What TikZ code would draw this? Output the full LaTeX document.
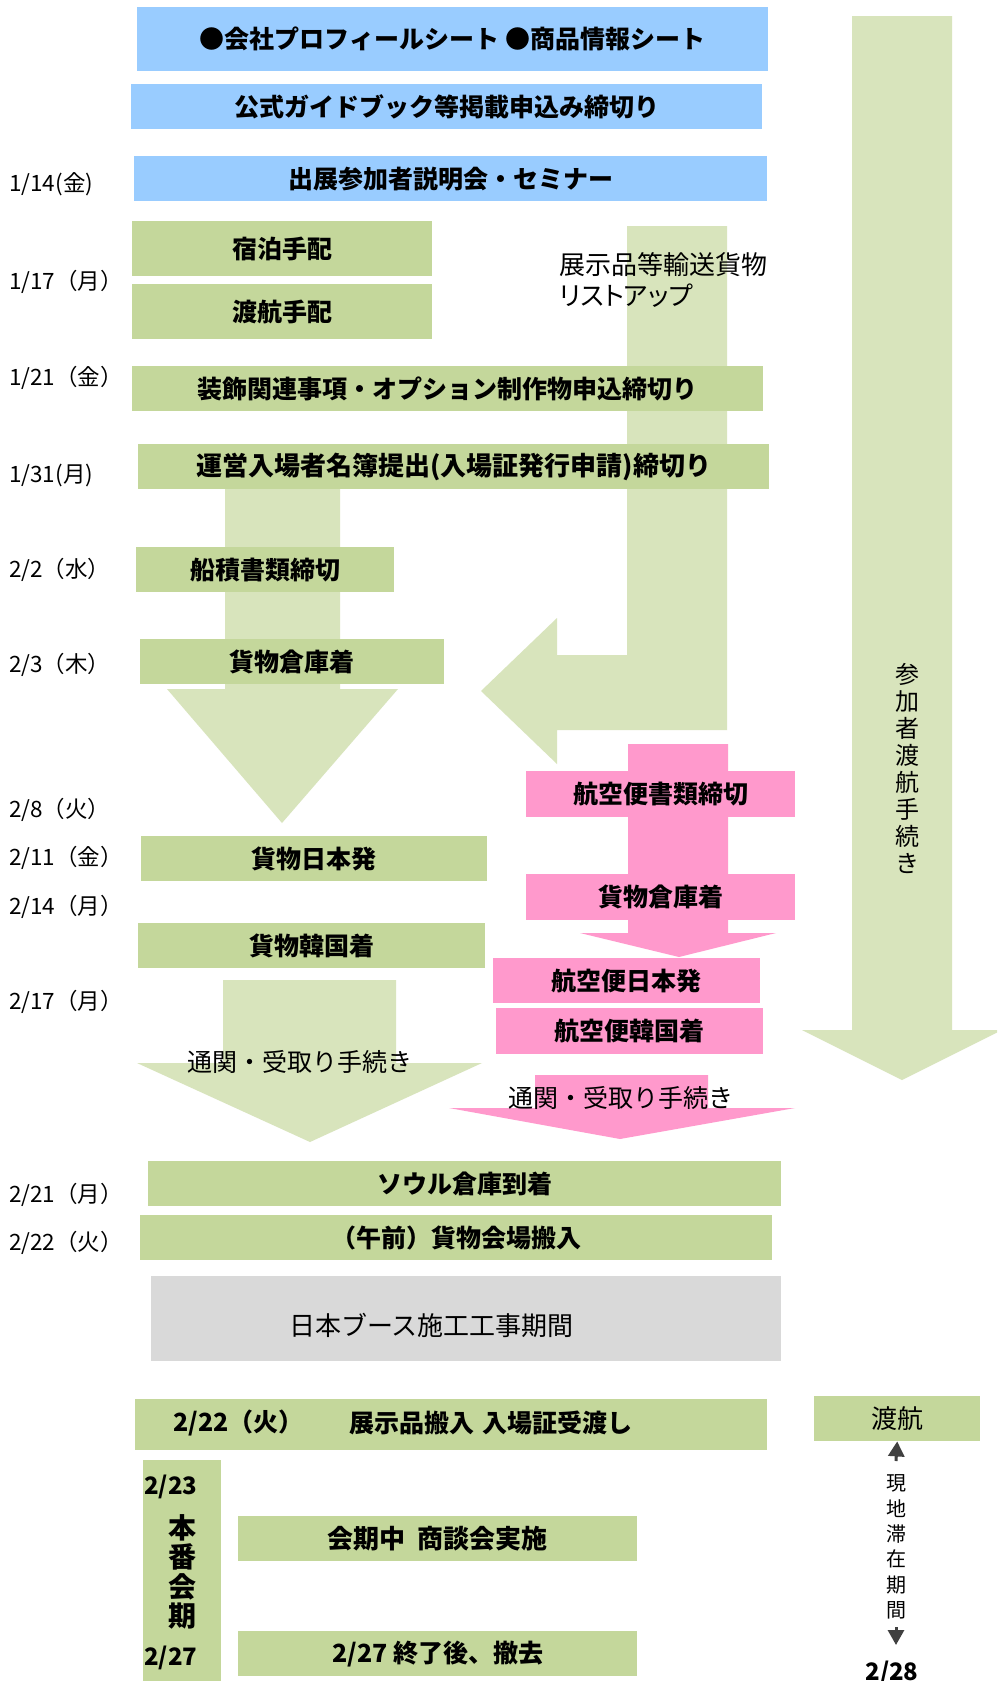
\documentclass[tikz,border=0pt]{standalone}
\usepackage{fontspec}
\setmainfont{Noto Sans CJK JP}
\usetikzlibrary{arrows.meta}
\definecolor{cblue}{HTML}{99CCFF}
\definecolor{cgreen}{HTML}{C4D79B}
\definecolor{clight}{HTML}{D8E4BC}
\definecolor{cpink}{HTML}{FF99CC}
\definecolor{cgrey}{HTML}{D9D9D9}
\definecolor{cdark}{HTML}{404040}
\begin{document}
\begin{tikzpicture}[x=1pt,y=-1pt,
  bx/.style={inner sep=0pt, anchor=north west, font=\fontsize{25}{30}\selectfont\bfseries},
  gbox/.style={bx, fill=cgreen},
  bbox/.style={bx, fill=cblue},
  pbox/.style={bx, fill=cpink},
  greybox/.style={inner sep=0pt, anchor=north west, fill=cgrey},
  datelbl/.style={inner sep=0pt, anchor=west, font=\fontsize{22.5}{26}\selectfont},
  plain/.style={inner sep=0pt, font=\fontsize{25}{30}\selectfont},
  boldtxt/.style={inner sep=0pt, font=\fontsize{25}{30}\selectfont\bfseries},
  lightarrow/.style={fill=clight, draw=none},
  pinkarrow/.style={fill=cpink, draw=none},
  stayarrow/.style={draw=cdark, line width=3pt, -{Triangle[width=16pt,length=15pt]}},
]
\useasboundingbox (0,0) rectangle (997,1681);
\clip (0,0) rectangle (997,1681);
\fill[white] (0,0) rectangle (997,1681);

% block arrows
\fill[lightarrow] (852,16) -- (952,16) -- (952,1030) -- (1002,1030) -- (902,1080) -- (802,1030) -- (852,1030) -- cycle;
\fill[lightarrow] (627,226) -- (727,226) -- (727,730) -- (557,730) -- (557,764) -- (481,691) -- (557,618) -- (557,655) -- (627,655) -- cycle;
\fill[lightarrow] (225,470) -- (340,470) -- (340,689) -- (398,689) -- (282,823) -- (167,689) -- (225,689) -- cycle;
\fill[pinkarrow] (628,744) -- (728,744) -- (728,933) -- (776,933) -- (679,957) -- (580,933) -- (628,933) -- cycle;
\fill[lightarrow] (223,980) -- (396,980) -- (396,1063) -- (482,1063) -- (310,1142) -- (137,1063) -- (223,1063) -- cycle;
\fill[pinkarrow] (535,1075) -- (708,1075) -- (708,1108) -- (795,1108) -- (620,1139) -- (449,1108) -- (535,1108) -- cycle;

% boxes
\node[bbox, minimum width=631pt, minimum height=64pt] (b1) at (137,7) {●会社プロフィールシート\hspace{6pt}●商品情報シート};
\node[bbox, minimum width=631pt, minimum height=45pt] (b2) at (131,84) {公式ガイドブック等掲載申込み締切り};
\node[bbox, minimum width=633pt, minimum height=45pt] (b3) at (134,156) {出展参加者説明会・セミナー};
\node[gbox, minimum width=300pt, minimum height=55pt] (shuku) at (132,221) {宿泊手配};
\node[gbox, minimum width=300pt, minimum height=55pt] (toko) at (132,284) {渡航手配};
\node[gbox, minimum width=631pt, minimum height=45pt] (soshoku) at (132,366) {装飾関連事項・オプション制作物申込締切り};
\node[gbox, minimum width=631pt, minimum height=45pt, font=\fontsize{26}{30}\selectfont\bfseries] (unei) at (138,444) {運営入場者名簿提出(入場証発行申請)締切り};
\node[gbox, minimum width=258pt, minimum height=45pt] (funa) at (136,547) {船積書類締切};
\node[gbox, minimum width=304pt, minimum height=45pt] (soko1) at (140,639) {貨物倉庫着};
\node[gbox, minimum width=346pt, minimum height=45pt] (nihon) at (141,836) {貨物日本発};
\node[gbox, minimum width=347pt, minimum height=45pt] (kankoku) at (138,923) {貨物韓国着};
\node[pbox, minimum width=269pt, minimum height=46pt] (air1) at (526,771) {航空便書類締切};
\node[pbox, minimum width=269pt, minimum height=46pt] (air2) at (526,874) {貨物倉庫着};
\node[pbox, minimum width=267pt, minimum height=45pt] (air3) at (493,958) {航空便日本発};
\node[pbox, minimum width=267pt, minimum height=46pt] (air4) at (496,1008) {航空便韓国着};
\node[gbox, minimum width=633pt, minimum height=45pt] (seoul) at (148,1161) {ソウル倉庫到着};
\node[gbox, minimum width=632pt, minimum height=45pt] (gozen) at (140,1215) {（午前）貨物会場搬入};
\node[greybox, minimum width=630pt, minimum height=85pt] (kouji) at (151,1276) {};
\node[gbox, minimum width=632pt, minimum height=51pt] (tenji) at (135,1399) {};
\node[gbox, minimum width=166pt, minimum height=45pt, font=\fontsize{26}{30}\selectfont] (toko2) at (814,1396) {渡航};
\node[gbox, minimum width=78pt, minimum height=230pt] (honban) at (143,1460) {};
\node[gbox, minimum width=399pt, minimum height=45pt, font=\fontsize{26}{30}\selectfont\bfseries] (kaiki) at (238,1516) {会期中\hspace{12pt}商談会実施};
\node[gbox, minimum width=399pt, minimum height=45pt] (shuryo) at (238,1631) {2/27 終了後、撤去};

% texts inside / near
\node[plain, anchor=west, font=\fontsize{26}{30}\selectfont] (kouji-t) at (289,1325) {日本ブース施工工事期間};
\node[boldtxt, anchor=west] (tenji-d) at (173,1423) {2/22（火）};
\node[boldtxt, anchor=west] (tenji-t) at (349,1423) {展示品搬入\hspace{8pt}入場証受渡し};
\node[boldtxt, anchor=west, font=\fontsize{24}{28}\selectfont\bfseries] (d223) at (144,1487) {2/23};
\node[boldtxt, anchor=west, font=\fontsize{24}{28}\selectfont\bfseries] (d227) at (144,1658) {2/27};
\node[boldtxt, align=center, font=\fontsize{28}{29.3}\selectfont\bfseries] (honban-t) at (182,1572) {本\\番\\会\\期};
\node[plain, anchor=west, font=\fontsize{26}{31}\selectfont] (list1) at (559,265) {展示品等輸送貨物};
\node[plain, anchor=west, font=\fontsize{26}{31}\selectfont\addfontfeature{RawFeature=+palt}] (list2) at (559,296) {リストアップ};
\node[plain] (tsukan1) at (300,1062) {通関・受取り手続き};
\node[plain] (tsukan2) at (621,1098) {通関・受取り手続き};
\node[plain, align=center, font=\fontsize{24}{27}\selectfont] (sanka) at (907,768) {参\\加\\者\\渡\\航\\手\\続\\き};
\node[plain, align=center, font=\fontsize{20}{25.4}\selectfont] (stay) at (896,1547) {現\\地\\滞\\在\\期\\間};
\node[boldtxt, font=\fontsize{24}{28}\selectfont\bfseries] (d228) at (892,1673) {2/28};

% stay arrows
\coordinate (upbase) at (896,1461);
\coordinate (dnbase) at (896,1627);
\coordinate (dntip) at (896,1645);
\draw[stayarrow] (upbase) -- (toko2.south);
\draw[stayarrow] (dnbase) -- (dntip);

% date labels
\node[datelbl] (l114) at (9,184) {1/14(金)};
\node[datelbl] (l117) at (9,282) {1/17（月）};
\node[datelbl] (l121) at (9,378) {1/21（金）};
\node[datelbl] (l131) at (9,475) {1/31(月)};
\node[datelbl] (l202) at (9,570) {2/2（水）};
\node[datelbl] (l203) at (9,665) {2/3（木）};
\node[datelbl] (l208) at (9,810) {2/8（火）};
\node[datelbl] (l211) at (9,858) {2/11（金）};
\node[datelbl] (l214) at (9,907) {2/14（月）};
\node[datelbl] (l217) at (9,1002) {2/17（月）};
\node[datelbl] (l221) at (9,1195) {2/21（月）};
\node[datelbl] (l222) at (9,1243) {2/22（火）};
\end{tikzpicture}
\end{document}
